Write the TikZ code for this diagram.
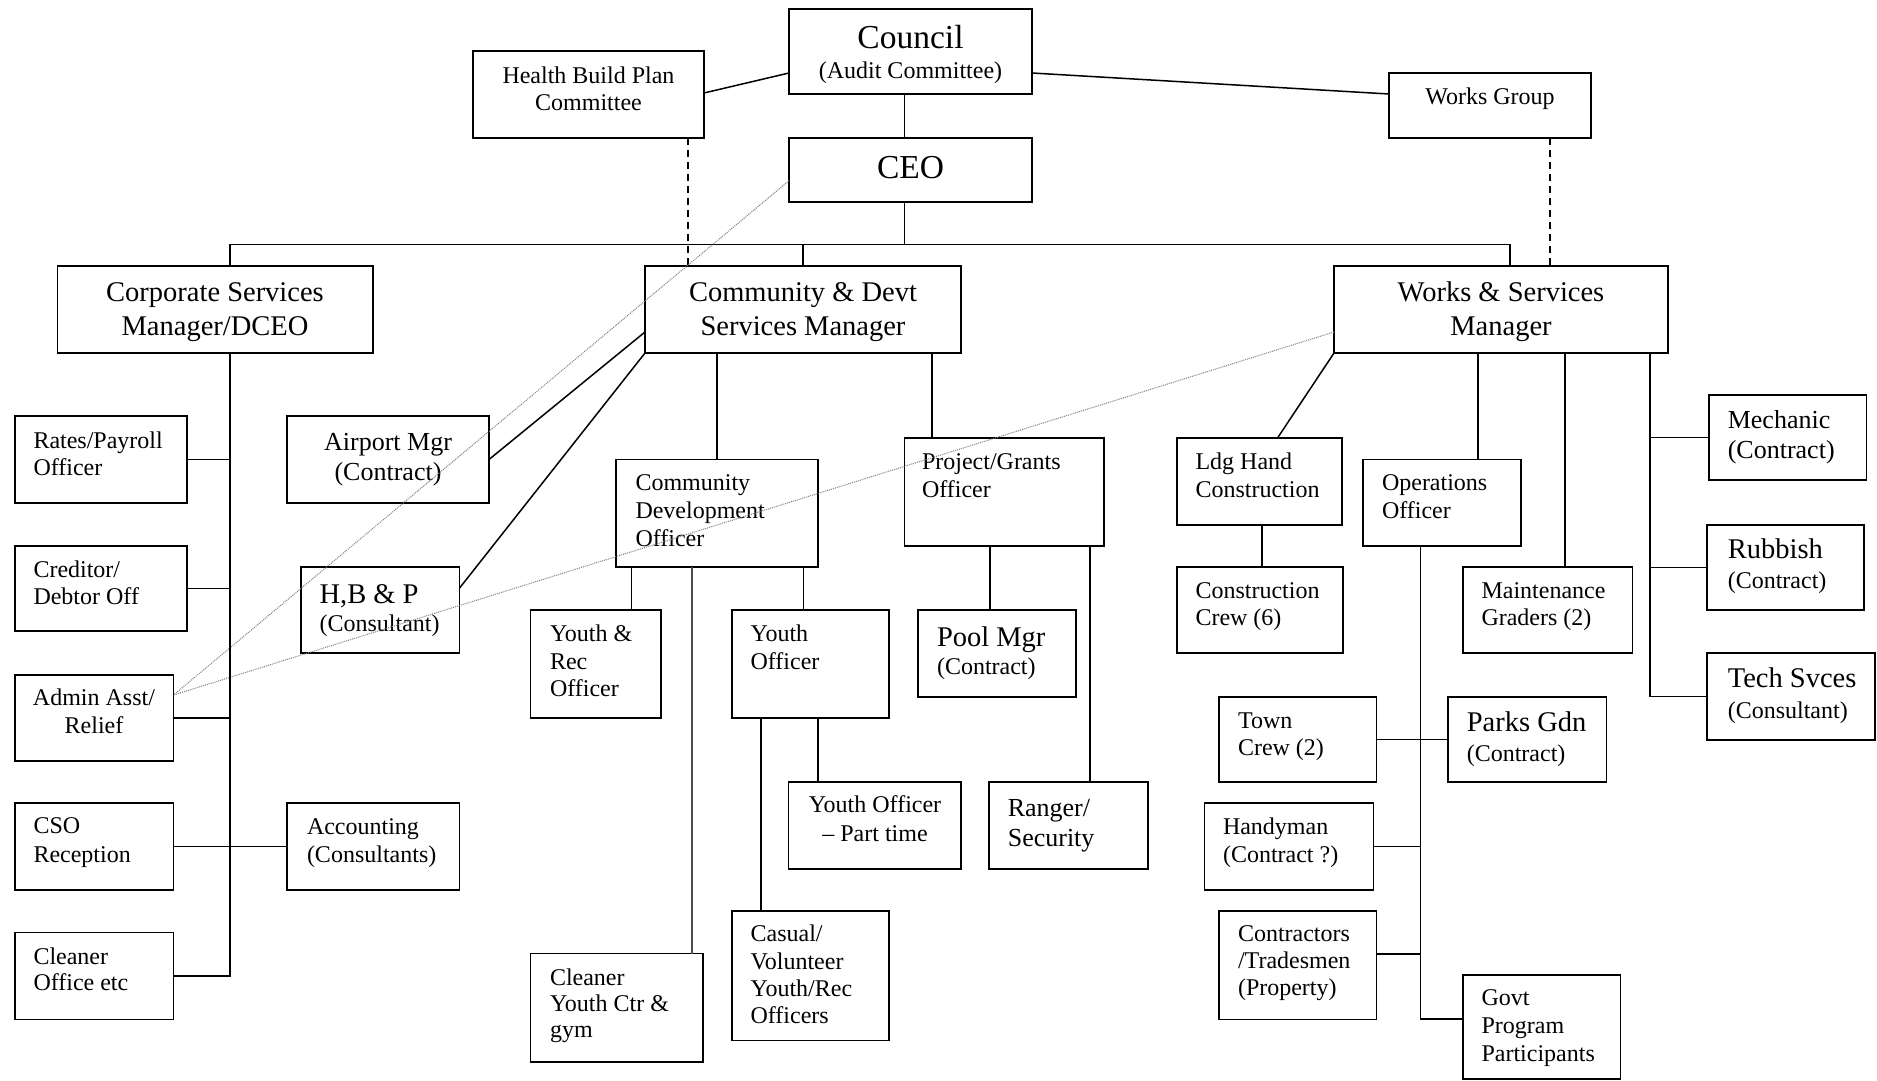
\documentclass[tikz,border=0pt]{standalone}
\usepackage{fontspec}
\setmainfont{Liberation Serif}
\tikzset{
  box/.style={draw, line width=1.5pt, inner sep=0pt, outer sep=0pt},
  ltxt/.style={anchor=base west, inner sep=0pt, outer sep=0pt},
  ctxt/.style={anchor=base, inner sep=0pt, outer sep=0pt},
  link/.style={line width=1.5pt},
  dashline/.style={line width=1.3pt, dash pattern=on 7pt off 5pt},
  dotline/.style={line width=1pt, gray, densely dotted},
}
\newcommand\mkbox[5]{\node[box, minimum width={#4-#2}, minimum height={#5-#3}] (#1) at ({(#2+#4)/2},{(#3+#5)/2}) {};}
\newcommand\ltext[6]{\node[ltxt] (#1) at (#2,#3) {\parbox[t]{300pt}{\raggedright\lineskiplimit=-100pt\fontsize{#4}{#5}\selectfont #6}};}
\newcommand\ctext[6]{\node[ctxt] (#1) at (#2,#3) {\parbox[t]{360pt}{\centering\lineskiplimit=-100pt\fontsize{#4}{#5}\selectfont #6}};}
\begin{document}
\begin{tikzpicture}[x=1pt,y=-1pt]
\path[use as bounding box, fill=white] (0,0) rectangle (1877,1081);
% boxes
\mkbox{council}{789}{9}{1032}{94}
\mkbox{hbp}{473}{51}{704}{138}
\mkbox{wg}{1389}{73}{1591}{138}
\mkbox{ceo}{789}{138}{1032}{202}
\mkbox{csm}{57.5}{266}{373}{353}
\mkbox{cds}{645}{266}{961}{353}
\mkbox{wsm}{1334}{266}{1668}{353}
\mkbox{rates}{15}{416}{187}{503}
\mkbox{airport}{287}{416}{489}{503}
\mkbox{cdo}{616}{459.5}{818}{567}
\mkbox{pgo}{904.5}{438}{1104}{546}
\mkbox{ldg}{1177}{438}{1342}{525}
\mkbox{ops}{1363}{459.5}{1521}{546}
\mkbox{mech}{1709}{395}{1866.5}{480}
\mkbox{creditor}{15}{546}{187}{631}
\mkbox{hbandp}{301}{567}{459.6}{653}
\mkbox{yr}{530.6}{610}{661}{718}
\mkbox{yo}{732}{610}{889}{718}
\mkbox{pool}{918}{610}{1076}{697}
\mkbox{cc}{1177}{567}{1343}{653}
\mkbox{mg}{1463}{567}{1632.5}{653}
\mkbox{rubbish}{1707}{525}{1864}{610}
\mkbox{admin}{15}{675}{173.5}{761}
\mkbox{town}{1219}{697}{1376.5}{782}
\mkbox{parks}{1448}{697}{1606.5}{782}
\mkbox{tech}{1707}{653}{1875}{740}
\mkbox{cso}{15}{803}{173.5}{890}
\mkbox{acct}{287}{803}{459.6}{890}
\mkbox{ypt}{788.6}{782}{960.8}{869}
\mkbox{ranger}{989}{782}{1148}{869}
\mkbox{handy}{1204.5}{803}{1373.7}{890}
\mkbox{cleaner}{15}{932.7}{173.5}{1019.5}
\mkbox{casual}{732}{911}{889}{1040.5}
\mkbox{contr}{1219}{911}{1376.5}{1019.5}
\mkbox{cyc}{530.6}{953.7}{703}{1062}
\mkbox{govt}{1463}{975}{1620.4}{1079}
% texts
\ctext{council-t}{910.5}{48.7}{24}{29.3}{{\fontsize{33.5}{38}\selectfont Council}\\(Audit Committee)}
\ctext{hbp-t}{588.5}{83.4}{24}{27.6}{Health Build Plan\\Committee}
\ctext{wg-t}{1490}{104}{24}{27.6}{Works Group}
\ctext{ceo-t}{910.5}{178}{33.5}{38}{CEO}
\ctext{csm-t}{215}{301}{28.5}{34.4}{Corporate Services\\Manager/DCEO}
\ctext{cds-t}{803}{301}{28.5}{34.4}{Community \& Devt\\Services Manager}
\ctext{wsm-t}{1501}{301}{28.5}{34.4}{Works \& Services\\Manager}
\ltext{rates-t}{33.5}{448.4}{24}{27.3}{Rates/Payroll\\Officer}
\ctext{airport-t}{388}{450}{26}{30}{Airport Mgr\\(Contract)}
\ltext{cdo-t}{635.5}{490}{24}{28}{Community\\Development\\Officer}
\ltext{pgo-t}{922}{469}{24}{28}{Project/Grants\\Officer}
\ltext{ldg-t}{1195.5}{469}{24}{28}{Ldg Hand\\Construction}
\ltext{ops-t}{1382}{490}{24}{28}{Operations\\Officer}
\ltext{mech-t}{1727.8}{428}{26}{30}{Mechanic\\(Contract)}
\ltext{creditor-t}{33.5}{577.4}{24}{27.3}{Creditor/\\Debtor Off}
\ltext{hbandp-t}{319.6}{603}{24}{28}{{\fontsize{28.5}{32}\selectfont H,B \& P}\\(Consultant)}
\ltext{yr-t}{550}{641.7}{24}{27.6}{Youth \&\\Rec\\Officer}
\ltext{yo-t}{750.6}{641.7}{24}{28}{Youth\\Officer}
\ltext{pool-t}{937}{646}{24}{28.8}{{\fontsize{28.5}{32}\selectfont Pool Mgr}\\(Contract)}
\ltext{cc-t}{1195.5}{598.5}{24}{27.1}{Construction\\Crew (6)}
\ltext{mg-t}{1481.5}{598.5}{24}{27.1}{Maintenance\\Graders (2)}
\ltext{rubbish-t}{1727.8}{558}{24}{30}{{\fontsize{28.5}{32}\selectfont Rubbish}\\(Contract)}
\ctext{admin-t}{94}{705}{24}{28.8}{Admin Asst/\\Relief}
\ltext{town-t}{1238}{728.5}{24}{27.1}{Town\\Crew (2)}
\ltext{parks-t}{1466.8}{731}{24}{30}{{\fontsize{28.5}{32}\selectfont Parks Gdn}\\(Contract)}
\ltext{tech-t}{1727.8}{687}{24}{31}{{\fontsize{28.5}{32}\selectfont Tech Svces}\\(Consultant)}
\ltext{cso-t}{33.5}{833}{24}{29}{CSO\\Reception}
\ltext{acct-t}{307}{834}{24}{28}{Accounting\\(Consultants)}
\ctext{ypt-t}{875}{812.8}{24}{28.2}{Youth Officer\\– Part time}
\ltext{ranger-t}{1007.8}{816}{26}{30}{Ranger/\\Security}
\ltext{handy-t}{1223}{834}{24}{28}{Handyman\\(Contract ?)}
\ltext{cleaner-t}{33.5}{964}{24}{26.5}{Cleaner\\Office etc}
\ltext{casual-t}{750.6}{941.8}{24}{27.3}{Casual/\\Volunteer\\Youth/Rec\\Officers}
\ltext{contr-t}{1238}{941.8}{24}{27}{Contractors\\/Tradesmen\\(Property)}
\ltext{cyc-t}{550}{985}{24}{26.4}{Cleaner\\Youth Ctr \&\\gym}
\ltext{govt-t}{1481.5}{1005}{24}{28}{Govt\\Program\\Participants}
% top connectors
\draw[link] (hbp.east |- 0,93) -- (council.west |- 0,73);
\draw[link] (council.east |- 0,73) -- (wg.west |- 0,94);
\draw[link] (council.south -| 904.5,0) -- (ceo.north -| 904.5,0);
\draw[link] (ceo.south -| 904.5,0) -- (904.5,244.7);
\draw[link] (csm.north -| 230,0) -- (230,244.7) -- (1510,244.7) -- (wsm.north -| 1510,0);
\draw[link] (cds.north |- 0,244.7) -- (cds.north);
\draw[dashline] (hbp.south -| 688,0) -- (cds.north -| 688,0);
\draw[dashline] (wg.south -| 1550,0) -- (wsm.north -| 1550,0);
\draw[dotline] (ceo.west |- 0,180.7) -- (admin.east |- 0,695);
\draw[dotline] (wsm.west |- 0,332) -- (admin.east |- 0,695);
% corporate services
\draw[link] (csm.south -| 230,0) |- (cleaner.east);
\draw[link] (rates.east) -- (rates.east -| 230,0);
\draw[link] (creditor.east) -- (creditor.east -| 230,0);
\draw[link] (admin.east) -- (admin.east -| 230,0);
\draw[link] (cso.east) -- (acct.west);
% community & devt
\draw[link] (airport.east) -- (cds.west |- 0,332);
\draw[link] (hbandp.east |- 0,588) -- (cds.south west);
\draw[link] (cds.south -| cdo.north) -- (cdo.north);
\draw[link] (cds.south -| 932,0) -- (pgo.north -| 932,0);
\draw[link] (cdo.south -| 631.5,0) -- (yr.north -| 631.5,0);
\draw[link, black!70] (cdo.south -| 692,0) -- (cyc.north -| 692,0);
\draw[link] (cdo.south -| 803.7,0) -- (yo.north -| 803.7,0);
\draw[link] (yo.south -| 761,0) -- (casual.north -| 761,0);
\draw[link] (yo.south -| 818,0) -- (ypt.north -| 818,0);
\draw[link] (pgo.south -| 990,0) -- (pool.north -| 990,0);
\draw[link] (pgo.south -| 1090,0) -- (ranger.north -| 1090,0);
% works & services
\draw[link] (wsm.south west) -- (ldg.north -| 1277.5,0);
\draw[link] (wsm.south -| 1478,0) -- (ops.north -| 1478,0);
\draw[link] (wsm.south -| 1565,0) -- (mg.north -| 1565,0);
\draw[link] (wsm.south -| 1650,0) |- (tech.west);
\draw[link] (mech.west) -- (mech.west -| 1650,0);
\draw[link] (rubbish.west) -- (rubbish.west -| 1650,0);
\draw[link] (ldg.south -| 1262,0) -- (cc.north -| 1262,0);
\draw[link] (ops.south -| 1420.4,0) |- (govt.west |- 0,1019);
\draw[link] (town.east) -- (parks.west);
\draw[link] (handy.east) -- (handy.east -| 1420.4,0);
\draw[link] (contr.east |- 0,954) -- (1420.4,954);
\end{tikzpicture}
\end{document}
